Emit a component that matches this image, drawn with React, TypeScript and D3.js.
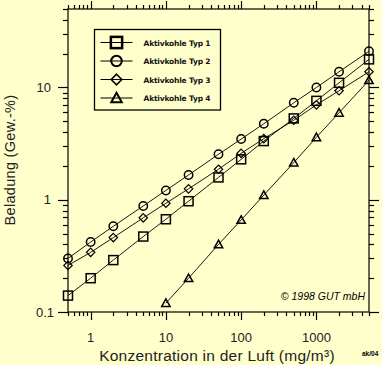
import React from "react";
import * as d3 from "d3";

const concentrations = [0.5, 1, 2, 5, 10, 20, 50, 100, 200, 500, 1000, 2000, 5000];
const typ1 = [0.14, 0.2, 0.29, 0.47, 0.67, 0.97, 1.58, 2.29, 3.33, 5.3, 7.6, 11.0, 17.8];
const typ2 = [0.3, 0.42, 0.58, 0.88, 1.21, 1.66, 2.54, 3.47, 4.75, 7.3, 10.0, 13.8, 21.0];
const typ3 = [0.26, 0.34, 0.46, 0.69, 0.93, 1.25, 1.87, 2.59, 3.5, 5.1, 7.0, 9.35, 13.8];
const typ4Conc = [10, 20, 50, 100, 200, 500, 1000, 2000, 5000];
const typ4 = [0.12, 0.2, 0.4, 0.66, 1.1, 2.14, 3.6, 5.95, 11.6];
const seriesNames = ["Aktivkohle Typ 1", "Aktivkohle Typ 2", "Aktivkohle Typ 3", "Aktivkohle Typ 4"];
const xTickLabels = ["1", "10", "100", "1000"];
const yTickLabels = ["0.1", "1", "10"];

const BG = "#ffffcc";

function Marker({ kind, x, y, legend }: { kind: number; x: number; y: number; legend?: boolean }) {
  const s = legend ? 1.25 : 1;
  if (kind === 0) {
    const h = 4.5 * s;
    return <rect x={x - h} y={y - h} width={2 * h} height={2 * h} fill="none" stroke="#000" strokeWidth={legend ? 2.5 : 1.5} />;
  }
  if (kind === 1) {
    return <circle cx={x} cy={y} r={4.2 * s} fill="none" stroke="#000" strokeWidth={legend ? 2 : 1.5} />;
  }
  if (kind === 2) {
    const h = 4.2 * s;
    return <path d={`M${x},${y - h}L${x + h},${y}L${x},${y + h}L${x - h},${y}Z`} fill="none" stroke="#000" strokeWidth={legend ? 1.6 : 1.2} />;
  }
  const h = 4.2 * s;
  return <path d={`M${x},${y - h}L${x + h},${y + h * 0.8}L${x - h},${y + h * 0.8}Z`} fill="none" stroke="#000" strokeWidth={legend ? 2 : 1.5} />;
}

export default function App() {
  const W = 382, H = 365;
  const x = d3.scaleLog().domain([0.5, 5000]).range([68, 369]);
  const y = d3.scaleLog().domain([0.1, 50]).range([312, 9]);

  const series = [
    { xs: concentrations, ys: typ1 },
    { xs: concentrations, ys: typ2 },
    { xs: concentrations, ys: typ3 },
    { xs: typ4Conc, ys: typ4 },
  ];

  const line = d3
    .line<[number, number]>()
    .x((d) => x(d[0]))
    .y((d) => y(d[1]));

  const xTicks: number[] = [];
  for (let e = -1; e <= 3; e++) for (let m = 1; m <= 9; m++) {
    const v = m * Math.pow(10, e);
    if (v >= 0.5 - 1e-9 && v <= 5000 + 1e-9) xTicks.push(v);
  }
  const yTicks: number[] = [];
  for (let e = -1; e <= 1; e++) for (let m = 1; m <= 9; m++) {
    const v = m * Math.pow(10, e);
    if (v >= 0.1 - 1e-9 && v <= 50 + 1e-9) yTicks.push(v);
  }
  const isMajor = (v: number) => Math.abs(Math.log10(v) - Math.round(Math.log10(v))) < 1e-9;

  const [x0, x1] = x.range();
  const [y0, y1] = y.range();

  return (
    <svg width={W} height={H} style={{ position: "absolute", left: 0, top: 0 }} fontFamily="Liberation Sans, Arial, sans-serif">
      <rect x={0} y={0} width={W} height={H} fill={BG} />
      <rect x={x0} y={y1} width={x1 - x0} height={y0 - y1} fill="none" stroke="#000" strokeWidth={1.2} />
      {xTicks.map((v, i) => {
        const px = Math.round(x(v)) + 0.5;
        const len = isMajor(v) ? 8 : 4;
        return (
          <g key={"xt" + i}>
            <line x1={px} x2={px} y1={y0} y2={y0 + len} stroke="#000" strokeWidth={1.2} />
            <line x1={px} x2={px} y1={y1} y2={y1 - len} stroke="#000" strokeWidth={1.2} />
          </g>
        );
      })}
      {yTicks.map((v, i) => {
        const py = Math.round(y(v)) + 0.5;
        const len = isMajor(v) ? 10 : 5;
        return (
          <g key={"yt" + i}>
            <line x1={x0} x2={x0 - len} y1={py} y2={py} stroke="#000" strokeWidth={1.2} />
            <line x1={x1} x2={x1 + len} y1={py} y2={py} stroke="#000" strokeWidth={1.2} />
          </g>
        );
      })}
      {xTickLabels.map((t) => (
        <text key={"xl" + t} x={x(+t)} y={342} textAnchor="middle" fontSize={13} fill="#222">
          {t}
        </text>
      ))}
      {yTickLabels.map((t) => (
        <text key={"yl" + t} x={t === "0.1" ? 54 : 51} y={y(+t) + 4.5} textAnchor="end" fontSize={13} fill="#222">
          {t}
        </text>
      ))}
      <text x={217} y={361} textAnchor="middle" fontSize={15.5} letterSpacing={0.25} fill="#222">
        Konzentration in der Luft (mg/m³)
      </text>
      <text transform="translate(15,160) rotate(-90)" textAnchor="middle" fontSize={14.5} letterSpacing={0.3} fill="#222">
        Beladung (Gew.-%)
      </text>
      {series.map((s, k) => {
        const pts = s.xs.map((v, i) => [v, s.ys[i]] as [number, number]);
        return (
          <g key={"s" + k}>
            <path d={line(pts) || ""} fill="none" stroke="#000" strokeWidth={0.9} />
            {pts.map((p, i) => (
              <Marker key={i} kind={k} x={x(p[0])} y={y(p[1])} />
            ))}
          </g>
        );
      })}
      <rect x={94.5} y={29.5} width={126} height={80.5} fill={BG} stroke="#000" strokeWidth={1.3} />
      {seriesNames.map((n, k) => {
        const ly = 42.5 + k * 18.5;
        return (
          <g key={"lg" + k}>
            <line x1={100.5} x2={132.5} y1={ly} y2={ly} stroke="#000" strokeWidth={1.2} />
            <Marker kind={k} x={116.5} y={ly} legend />
            <text x={143.5} y={ly + 3} fontSize={7.5} fontWeight="bold" fontFamily="DejaVu Sans, sans-serif" textLength={67} lengthAdjust="spacing" fill="#111">
              {n}
            </text>
          </g>
        );
      })}
      <text x={365} y={300} textAnchor="end" fontSize={10.5} fontStyle="italic" fill="#000">
        © 1998 GUT mbH
      </text>
      <text x={362} y={356} fontSize={6.5} fontWeight="bold" fill="#000">
        ak/04
      </text>
    </svg>
  );
}
